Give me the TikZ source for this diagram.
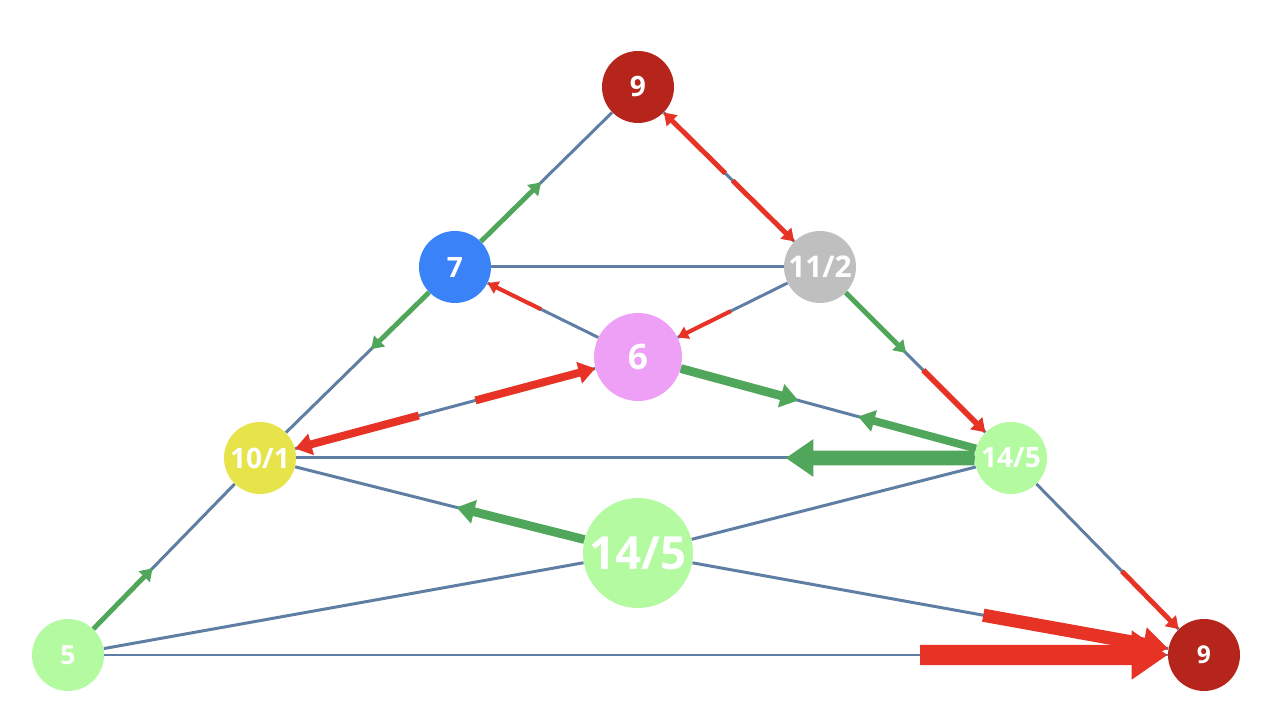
\documentclass[tikz,border=0pt]{standalone}
\usepackage{fontspec}
\setmainfont{Open Sans}
\usetikzlibrary{arrows.meta,calc}

\definecolor{edgeblue}{HTML}{5F7EA3}
\definecolor{arrred}{HTML}{E63325}
\definecolor{arrgreen}{HTML}{50A65A}
\definecolor{darkred}{HTML}{B5251B}
\definecolor{nodeblue}{HTML}{3A82F7}
\definecolor{nodegray}{HTML}{BFBFBF}
\definecolor{nodepink}{HTML}{EDA0F5}
\definecolor{nodeyellow}{HTML}{E6E44A}
\definecolor{nodegreen}{HTML}{B3FAA0}

\begin{document}
\begin{tikzpicture}[
  state/.style={circle, inner sep=0pt, minimum size=14.4mm, text=white, font=\bfseries\fontsize{16}{16}\selectfont},
  link/.style={line width=1.7pt, draw=edgeblue},
  gain/.style={draw=arrgreen, -{Triangle[length=2.2pt 1.6, width=2.6pt 2.1]}},
  loss/.style={draw=arrred, -{Triangle[length=2.2pt 1.6, width=2.6pt 2.1]}}
]
\useasboundingbox (0,0) rectangle (25.44,14.36);

\node[state, fill=darkred] (top9) at (12.76,12.62) {9};
\node[state, fill=nodeblue] (n7) at (9.10,9.02) {7};
\node[state, fill=nodegray, font=\bfseries\fontsize{17}{17}\selectfont] (n112) at (16.40,9.02) {11/2};
\node[state, fill=nodepink, minimum size=17.6mm, font=\bfseries\fontsize{20}{20}\selectfont] (n6) at (12.76,7.22) {6};
\node[state, fill=nodeyellow] (n101) at (5.20,5.20) {10/1};
\node[state, fill=nodegreen] (n145r) at (20.22,5.20) {14/5};
\node[state, fill=nodegreen, minimum size=22mm, font=\bfseries\fontsize{26}{26}\selectfont] (n145c) at (12.76,3.30) {14/5};
\node[state, fill=nodegreen, font=\bfseries\fontsize{15}{15}\selectfont] (n5) at (1.36,1.26) {5};
\node[state, fill=darkred, font=\bfseries\fontsize{14}{14}\selectfont] (n9) at (24.08,1.26) {9};

% plain links
\draw[link] (top9) -- (n7);
\draw[link] (top9) -- (n112);
\draw[link] (n7) -- (n112);
\draw[link] (n7) -- (n6);
\draw[link] (n112) -- (n6);
\draw[link] (n7) -- (n101);
\draw[link] (n112) -- (n145r);
\draw[link] (n101) -- (n6);
\draw[link] (n6) -- (n145r);
\draw[link] (n101) -- (n145r);
\draw[link] (n101) -- (n5);
\draw[link] (n145r) -- (n9);
\draw[link] (n101) -- (n145c);
\draw[link] (n145c) -- (n9);
\draw[link] (n5) -- (n145c);
\draw[link] (n145c) -- (n145r);
\draw[link] (n5) -- (n9);

% flows
\draw[gain, line width=2.8pt] (n7) -- ($(n7)!0.47!(top9)$);
\draw[loss, line width=2.8pt] ($(top9)!0.48!(n112)$) -- (top9);
\draw[loss, line width=2.8pt] ($(top9)!0.52!(n112)$) -- (n112);
\draw[gain, line width=2.8pt] (n7) -- ($(n7)!0.43!(n101)$);
\draw[loss, line width=2.3pt] ($(n6)!0.53!(n7)$) -- (n7);
\draw[loss, line width=2.3pt] ($(n112)!0.49!(n6)$) -- (n6);
\draw[loss, line width=4.5pt] ($(n101)!0.42!(n6)$) -- (n101);
\draw[loss, line width=4.5pt] ($(n101)!0.57!(n6)$) -- (n6);
\draw[gain, line width=5pt] (n6) -- ($(n6)!0.43!(n145r)$);
\draw[gain, line width=4.5pt] (n145r) -- ($(n145r)!0.41!(n6)$);
\draw[gain, line width=2.8pt] (n112) -- ($(n112)!0.45!(n145r)$);
\draw[loss, line width=3.2pt] ($(n112)!0.54!(n145r)$) -- (n145r);
\draw[gain, line width=8.5pt] (n145r) -- ($(n145r)!0.30!(n101)$);
\draw[gain, line width=5pt] (n145c) -- ($(n145c)!0.48!(n101)$);
\draw[gain, line width=2.8pt] (n5) -- ($(n5)!0.44!(n101)$);
\draw[loss, line width=7.5pt] ($(n145c)!0.61!(n9)$) -- (n9);
\draw[loss, line width=11.4pt] ($(n5)!0.75!(n9)$) -- (n9);
\draw[loss, line width=2.8pt] ($(n145r)!0.575!(n9)$) -- (n9);

\end{tikzpicture}
\end{document}
